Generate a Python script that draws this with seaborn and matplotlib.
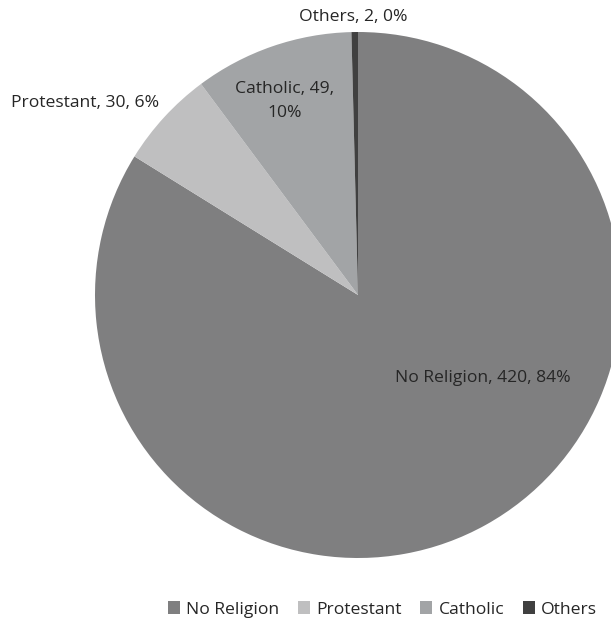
import matplotlib
matplotlib.use("Agg")
import matplotlib.pyplot as plt
import seaborn as sns
from matplotlib.patches import Patch

categories = ["No Religion", "Protestant", "Catholic", "Others"]
values = [420, 30, 49, 2]
colors = ["#7f7f80", "#bfbfc0", "#a2a4a6", "#404040"]

sns.set_theme(style="white")
plt.rcParams['font.family'] = ['Open Sans', 'DejaVu Sans']

fig = plt.figure(figsize=(6.11, 6.2), dpi=100)
ax = fig.add_axes([0, 0, 1, 1])

wedges, _ = ax.pie(values, colors=colors, startangle=90, counterclock=False,
                   center=(358, 325), radius=263, frame=True,
                   wedgeprops=dict(linewidth=0))
ax.set_xlim(0, 611)
ax.set_ylim(0, 620)
ax.set_aspect('equal')
ax.axis('off')

total = sum(values)
label_pos = [(483, 242), (85, 517), (285, 519), (353, 603)]
label_breaks = [False, False, True, False]
for cat, v, (x, y), br in zip(categories, values, label_pos, label_breaks):
    pct = round(100 * v / total)
    if br:
        txt = f"{cat}, {v},\n{pct}%"
    else:
        txt = f"{cat}, {v}, {pct}%"
    ax.text(x, y, txt, ha='center', va='center', fontsize=12.6, color='#262626',
            linespacing=1.6)

handles = [Patch(facecolor=c, edgecolor='none') for c in colors]
fig.legend(handles, categories, loc='center', bbox_to_anchor=(0.626, 0.017),
           ncol=4, frameon=False, fontsize=12.6, handlelength=0.7, handleheight=0.7,
           handletextpad=0.35, columnspacing=1.05, labelcolor='#262626')

fig.savefig("out.png", dpi=100)
